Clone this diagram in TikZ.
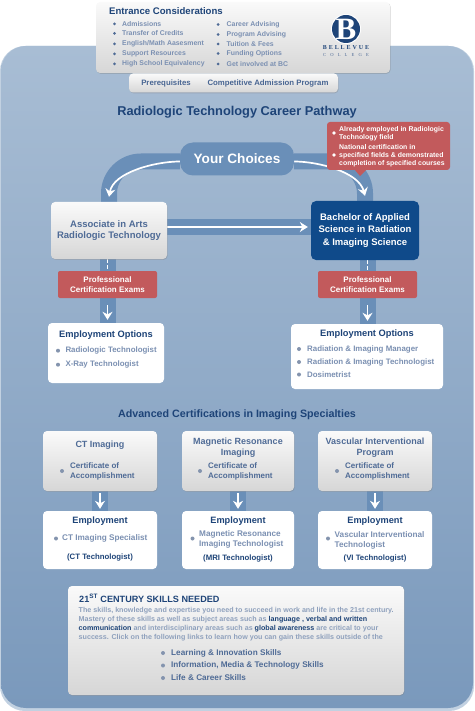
\documentclass[tikz,border=0pt]{standalone}
\usepackage{fontspec}
\setmainfont{Liberation Sans}
\newfontfamily\logofont[LetterSpace=32]{Liberation Serif}
\usetikzlibrary{arrows.meta,backgrounds,shadows}
\definecolor{panelTop}{HTML}{A8BDD4}
\definecolor{panelBot}{HTML}{7A99BC}
\definecolor{bandBlue}{HTML}{6A8FB8}
\definecolor{navyText}{HTML}{1E4478}
\definecolor{slateText}{HTML}{4F6B96}
\definecolor{paleText}{HTML}{7B90B2}
\definecolor{examRed}{HTML}{C25A5C}
\definecolor{dotGray}{HTML}{8494AE}
\definecolor{bachelorBlue}{HTML}{0F4A8A}
\newcommand{\fs}[1]{\fontsize{#1}{#1}\bfseries\selectfont}
\tikzset{
  softbox/.style={rectangle, rounded corners=4pt, top color=white!96!gray, bottom color=gray!32, inner sep=0pt, drop shadow={opacity=0.35, shadow xshift=0.6pt, shadow yshift=-0.8pt}},
  whitebox/.style={rectangle, rounded corners=4pt, fill=white, inner sep=0pt},
  redbox/.style={rectangle, rounded corners=2pt, fill=examRed, text=white, align=center, inner sep=0pt, font=\fs{8}},
  band/.style={line width=16pt, bandBlue},
  flow/.style={line width=1.7pt, white, -{Stealth[length=8pt,width=10pt]}},
  lab/.style={inner sep=0pt, anchor=west, align=left},
  head/.style={inner sep=0pt, align=center, text=navyText},
}
\begin{document}
\begin{tikzpicture}[x=1pt,y=-1pt]
\useasboundingbox (0,0) rectangle (474,711);

% Boxes of the top block
\node[softbox, minimum width=294pt, minimum height=71pt] (entrance) at (243,37.5) {};
\node[softbox, minimum width=209pt, minimum height=19pt] (tabs) at (233.5,83) {};
\node[lab, text=navyText, font=\fs{9.6}] (enthead) at (109,11) {Entrance Considerations};
\foreach \y/\lab [count=\i] in {24/Admissions,33.5/Transfer of Credits,44/{English/Math Aasesment},54/Support Resources,64/High School Equivalency} {
    \fill[slateText] (114.5,\y) circle (1.5pt);
    \node[lab, text=paleText, font=\fs{6.9}] (enta\i) at (122,\y) {\lab};
}
\foreach \y/\lab [count=\i] in {24.5/Career Advising,34.5/Program Advising,44/Tuition \& Fees,53.5/Funding Options,64/Get involved at BC} {
    \fill[slateText] (218,\y) circle (1.5pt);
    \node[lab, text=paleText, font=\fs{6.9}] (entb\i) at (226.5,\y) {\lab};
}
\node[inner sep=0pt, anchor=base, text=slateText!85!navyText, font=\fs{7.8}] (prereq) at (166,86) {Prerequisites};
\node[inner sep=0pt, anchor=base, text=slateText!85!navyText, font=\fs{7.8}] (compet) at (268,86) {Competitive Admission Program};

% Logo
\fill[white] (346,29) circle (15pt);
\fill[navyText] (346,29) circle (14pt);
\node[inner sep=0pt, text=white, font=\fontsize{31}{31}\bfseries\rmfamily\selectfont] (logob) at (346,29) {\fontspec{Liberation Serif}B};
\node[inner sep=0pt, text=navyText, font=\fontsize{6}{6}\bfseries\logofont] (logoa) at (346,47.5) {BELLEVUE};
\node[inner sep=0pt, text=slateText, font=\fontsize{4.6}{5}\logofont\addfontfeature{LetterSpace=90}] (logoc) at (346,55) {COLLEGE};

% Titles
\node[head, font=\fs{12.8}] (title) at (237,112) {Radiologic Technology Career Pathway};
\node[head, font=\fs{10.7}] (advanced) at (237,414.5) {Advanced Certifications in Imaging Specialties};

% Pathway
\node[rectangle, rounded corners=13pt, fill=bandBlue, text=white, inner sep=0pt, minimum width=114pt, minimum height=33pt, font=\fs{13.6}] (choices) at (237,159) {Your Choices};
\node[softbox, minimum width=116pt, minimum height=57pt, text=slateText, align=center, font=\fs{9.5}] (assoc) at (109,230.5) {Associate in Arts\\[2pt]Radiologic Technology};
\node[rectangle, rounded corners=5pt, fill=bachelorBlue, inner sep=0pt, minimum width=108pt, minimum height=59pt, text=white, align=center, font=\fontsize{9.5}{12.7}\bfseries\selectfont] (bachelor) at (365,230.5) {Bachelor of Applied\\Science in Radiation\\\& Imaging Science};
\node[redbox, minimum width=99pt, minimum height=27pt] (exama) at (107.5,284.5) {Professional\\[1.5pt]Certification Exams};
\node[redbox, minimum width=99pt, minimum height=27pt] (examb) at (367.5,284.5) {Professional\\[1.5pt]Certification Exams};

% Callout
\node[rectangle, rounded corners=3pt, fill=examRed, minimum width=123pt, minimum height=48pt, inner sep=0pt] (note) at (388.5,146) {};
\fill[examRed] (354,169) -- (360,176) -- (367,169) -- cycle;
\fill[white] (334,133) circle (1.8pt);
\fill[white] (334,155) circle (1.8pt);
\node[lab, text=white, font=\fontsize{6.9}{8.2}\bfseries\selectfont] (notea) at (339,134) {Already employed in Radiologic\\Technology field};
\node[lab, text=white, font=\fontsize{6.9}{8.2}\bfseries\selectfont] (noteb) at (339,156) {National certification in\\specified fields \& demonstrated\\completion of specified courses};

% Employment options
\node[whitebox, minimum width=116pt, minimum height=60pt] (joba) at (106,353) {};
\node[whitebox, minimum width=152pt, minimum height=65pt] (jobb) at (367,356.5) {};
\node[head, font=\fs{9.3}] (jobahead) at (106,335) {Employment Options};
\node[head, font=\fs{9.3}] (jobbhead) at (367,334) {Employment Options};
\foreach \y/\lab [count=\i] in {350.7/Radiologic Technologist,364.7/X-Ray Technologist} {
    \fill[dotGray] (58,\y) circle (2pt);
    \node[lab, text=paleText, font=\fs{7.9}] (jobaitem\i) at (65.3,\y) {\lab};
}
\foreach \y/\lab [count=\i] in {349/Radiation \& Imaging Manager,362/Radiation \& Imaging Technologist,374.5/Dosimetrist} {
    \fill[dotGray] (299,\y) circle (2pt);
    \node[lab, text=paleText, font=\fs{7.9}] (jobbitem\i) at (307,\y) {\lab};
}

% Advanced certifications
\foreach \x/\w/\nm/\lab in {100/114/ct/CT Imaging,238/112/mri/Magnetic Resonance\\[1.6pt]Imaging,375/114/vi/Vascular Interventional\\[1.6pt]Program} {
    \node[softbox, minimum width=\w pt, minimum height=60pt] (\nm box) at (\x,461) {};
    \node[whitebox, minimum width=\w pt, minimum height=58pt] (\nm job) at (\x,540) {};
    \node[head, text=slateText, font=\fs{9}] (\nm head) at (\x,{\x==100 ? 445 : 447.5}) {\lab};
    \node[head, font=\fs{9.2}] (\nm emp) at (\x,521.5) {Employment};
    \fill[dotGray] (\x-38,471) circle (2pt);
    \node[lab, text=slateText, font=\fontsize{8}{9.4}\bfseries\selectfont] (\nm cert) at (\x-30,471.3) {Certificate of\\Accomplishment};
}
\fill[dotGray] (56,538.5) circle (2pt);
\node[lab, text=paleText, font=\fs{8.2}] (ctitem) at (62,538.5) {CT Imaging Specialist};
\fill[dotGray] (192.5,538.5) circle (2pt);
\node[lab, text=paleText, font=\fontsize{8.2}{9.8}\bfseries\selectfont] (mriitem) at (199,539.5) {Magnetic Resonance\\Imaging Technologist};
\fill[dotGray] (328,538.5) circle (2pt);
\node[lab, text=paleText, font=\fontsize{8.2}{9.8}\bfseries\selectfont] (viitem) at (334.5,540) {Vascular Interventional\\Technologist};
\node[head, font=\fs{7.8}] (ctname) at (100,557) {(CT Technologist)};
\node[head, font=\fs{7.8}] (mriname) at (238,558.5) {(MRI Technologist)};
\node[head, font=\fs{7.8}] (viname) at (375,558.5) {(VI Technologist)};

% Skills
\node[softbox, minimum width=336pt, minimum height=109pt] (skills) at (236,640.5) {};
\node[lab, text=navyText, font=\fs{9.1}] (skillhead) at (79,598) {21\textsuperscript{ST} CENTURY SKILLS NEEDED};
\node[lab, text=paleText!85!white, font=\fontsize{7.15}{9.1}\bfseries\selectfont] (skilltext) at (78.5,624.5) {The skills, knowledge and expertise you need to succeed in work and life in the 21st century.\\Mastery of these skills as well as subject areas such as {\color{navyText}language , verbal and written}\\{\color{navyText}communication} and interdisciplinary areas such as {\color{navyText}global awareness} are critical to your\\success. Click on the following links to learn how you can gain these skills outside of the};
\foreach \y/\lab [count=\i] in {653/Learning \& Innovation Skills,665.5/{Information, Media \& Technology Skills},678/Life \& Career Skills} {
    \fill[dotGray] (163,\y) circle (2pt);
    \node[lab, text=slateText, font=\fs{8.2}] (skill\i) at (171,\y) {\lab};
}

% Panel and connectors
\begin{scope}[on background layer]
    \fill[panelTop!70!white, rounded corners=25pt] (0,46) rectangle (474,711);
    \shade[rounded corners=25pt, top color=panelTop, bottom color=panelBot] (1,46) rectangle (473,708);
    \draw[band, rounded corners=32pt] ([yshift=-2.5pt]choices.west) -| (assoc.north);
    \draw[band, rounded corners=32pt] ([yshift=-2.5pt]choices.east) -| (bachelor.north);
    \draw[flow] ([yshift=-2.5pt]choices.west) to[out=180,in=80,looseness=0.8] ([yshift=5pt]assoc.north);
    \draw[flow] ([yshift=-2.5pt]choices.east) to[out=0,in=105,looseness=0.8] ([yshift=5pt]bachelor.north);
    \draw[band] ([yshift=3.5pt]assoc.east) -- ([yshift=3.5pt]assoc.east -| bachelor.west);
    \draw[flow] ([yshift=3.5pt]assoc.east) -- ([xshift=-3pt,yshift=3.5pt]assoc.east -| bachelor.west);
    \foreach \top/\mid/\bot in {assoc/exama/joba,bachelor/examb/jobb} {
        \draw[band] (\top.south -| \mid) -- (\mid |- \bot.north);
        \draw[white, line width=1.7pt, dash pattern=on 4pt off 2pt] (\top.south -| \mid) -- (\mid.north);
        \draw[flow, shorten >=3pt, shorten <=7pt] (\mid.south) -- (\mid |- \bot.north);
    }
    \foreach \nm in {ct,mri,vi} {
        \draw[band] (\nm box.south) -- (\nm job.north);
        \draw[flow, shorten >=2pt, shorten <=2pt] (\nm box.south) -- (\nm job.north);
    }
\end{scope}
\end{tikzpicture}
\end{document}
